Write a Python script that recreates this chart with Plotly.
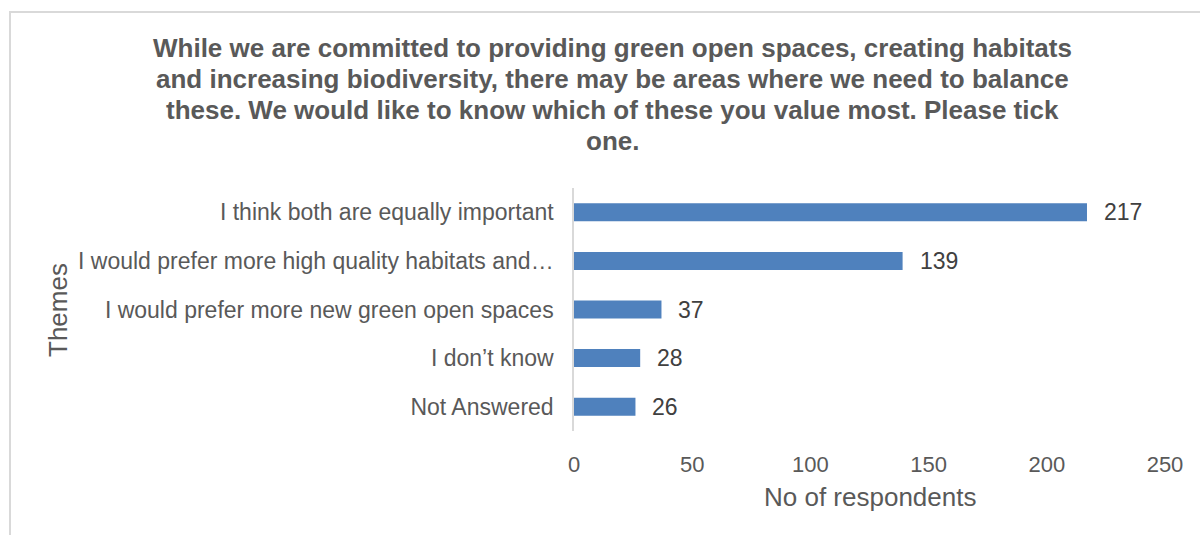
import plotly.graph_objects as go

# Survey responses
themes = [
    "I think both are equally important",
    "I would prefer more high quality habitats and…",
    "I would prefer more new green open spaces",
    "I don’t know",
    "Not Answered",
]
respondents = [217, 139, 37, 28, 26]
x_ticks = [0, 50, 100, 150, 200, 250]

title_lines = [
    "While we are committed to providing green open spaces, creating habitats",
    "and increasing biodiversity, there may be areas where we need to balance",
    "these. We would like to know which of these you value most. Please tick",
    "one.",
]

W, H = 1200, 535
L, R, T, B = 574, 35, 188, 104
PW, PH = W - L - R, H - T - B
FONT = "Liberation Sans, Arial, sans-serif"


def px_x(p):
    return (p - L) / PW


def px_y(p):
    return (H - B - p) / PH


fig = go.Figure(
    go.Bar(
        x=respondents,
        y=themes,
        orientation="h",
        marker=dict(color="#4F81BD", line=dict(width=0)),
        width=0.37,
        hoverinfo="skip",
    )
)

# value labels next to each bar end
for v, t in zip(respondents, themes):
    fig.add_annotation(
        x=v, y=t, xref="x", yref="y", text=str(v), showarrow=False,
        xanchor="left", xshift=15, font=dict(family=FONT, size=23, color="#404040"),
    )

# chart title, one line per annotation for fixed line spacing
for i, line in enumerate(title_lines):
    fig.add_annotation(
        x=px_x(612), y=px_y(48 + 31 * i), xref="paper", yref="paper",
        text="<b>" + line + "</b>", showarrow=False,
        xanchor="center", yanchor="middle",
        font=dict(family=FONT, size=26, color="#595959"),
    )

# axis titles
fig.add_annotation(
    x=px_x(58), y=px_y(310), xref="paper", yref="paper", text="Themes",
    textangle=-90, showarrow=False, xanchor="center", yanchor="middle",
    font=dict(family=FONT, size=26, color="#595959"),
)
fig.add_annotation(
    x=px_x(870), y=px_y(497), xref="paper", yref="paper", text="No of respondents",
    showarrow=False, xanchor="center", yanchor="middle",
    font=dict(family=FONT, size=26, color="#595959"),
)

# outer chart frame
fig.add_shape(
    type="rect", xref="paper", yref="paper",
    x0=px_x(10), x1=px_x(1205), y0=px_y(545), y1=px_y(12),
    line=dict(color="#D9D9D9", width=2), fillcolor="rgba(0,0,0,0)", layer="below",
)

fig.update_layout(
    width=W, height=H,
    margin=dict(l=L, r=R, t=T, b=B, autoexpand=False),
    paper_bgcolor="white", plot_bgcolor="white",
    showlegend=False,
    font=dict(family=FONT, size=22, color="#595959"),
    xaxis=dict(
        range=[0, 250], tickvals=x_ticks, showgrid=False, zeroline=False,
        showline=False, ticks="", ticklabelstandoff=18,
        tickfont=dict(size=22, color="#595959"),
        fixedrange=True,
    ),
    yaxis=dict(
        autorange="reversed", showgrid=False, zeroline=False,
        showline=True, linecolor="#D9D9D9", linewidth=1.5,
        ticks="", ticklabelstandoff=14,
        tickfont=dict(size=23, color="#595959"),
        fixedrange=True,
    ),
)

fig.write_html("out.html")
